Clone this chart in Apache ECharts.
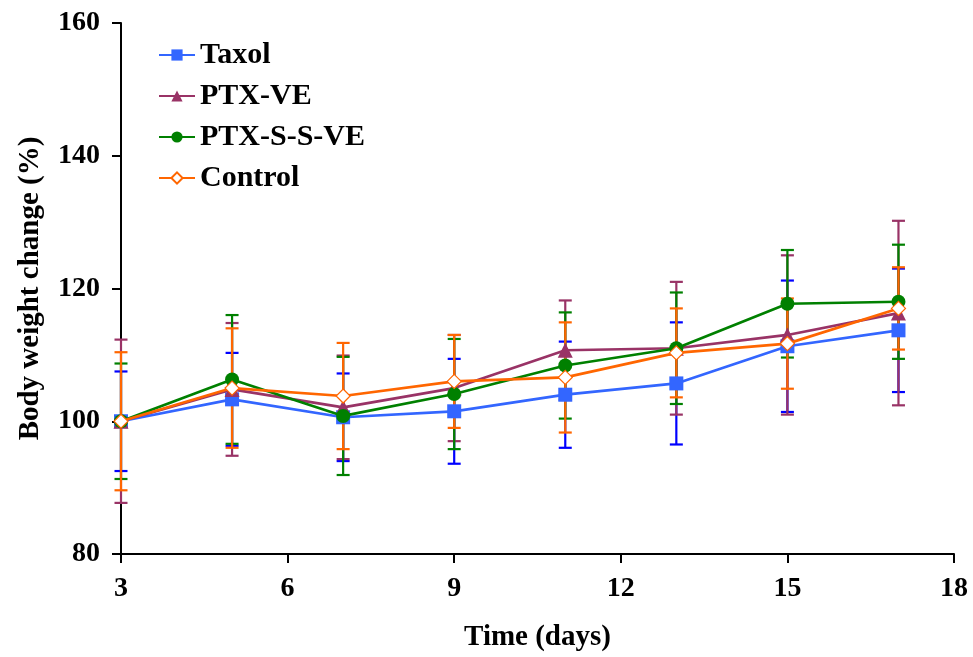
<!DOCTYPE html>
<html><head><meta charset="utf-8">
<script src="https://cdn.jsdelivr.net/npm/echarts@6/dist/echarts.min.js"></script>
<style>html,body{margin:0;padding:0;background:#fff}#c{width:973px;height:657px}</style>
</head><body><div id="c"></div>
<script>
var days = [3, 5, 7, 9, 11, 13, 15, 17];
var seriesNames = ['Taxol', 'PTX-VE', 'PTX-S-S-VE', 'Control'];
var taxol = [100, 103.3, 100.6, 101.5, 104.0, 105.7, 111.3, 113.7];
var taxolErr = [7.5, 7.0, 6.6, 7.9, 8.0, 9.2, 9.9, 9.3];
var ptxVE = [100, 104.8, 102.1, 105.0, 110.7, 111.0, 113.0, 116.3];
var ptxVEErr = [12.3, 10.0, 7.8, 8.0, 7.5, 10.0, 12.0, 13.9];
var ptxSSVE = [100, 106.3, 100.8, 104.1, 108.4, 111.0, 117.7, 118.0];
var ptxSSVEErr = [8.7, 9.7, 8.9, 8.3, 8.0, 8.4, 8.1, 8.6];
var control = [100, 105.0, 103.8, 106.0, 106.6, 110.3, 111.7, 117.0];
var controlErr = [10.4, 9.0, 8.0, 7.0, 8.3, 6.7, 6.8, 6.2];
var xTicks = [3, 6, 9, 12, 15, 18];
var yTicks = [80, 100, 120, 140, 160];

var FONT = '"Liberation Serif", "Times New Roman", serif';
var lineColors = ['#3366ff', '#993366', '#008000', '#ff6600'];
var barColors = ['#0000ff', '#993366', '#008000', '#ff6600'];
var symbols = ['rect', 'triangle', 'circle', 'diamond'];
var vals = [taxol, ptxVE, ptxSSVE, control];
var errs = [taxolErr, ptxVEErr, ptxSSVEErr, controlErr];

function errData(v, e) {
  return days.map(function (d, i) { return [d, v[i] - e[i], v[i] + e[i]]; });
}
function errSeries(idx) {
  return {
    type: 'custom', name: seriesNames[idx] + ' err', silent: true, z: 1,
    data: errData(vals[idx], errs[idx]),
    renderItem: function (params, api) {
      var lo = api.coord([api.value(0), api.value(1)]);
      var hi = api.coord([api.value(0), api.value(2)]);
      var hw = 6.5;
      var st = { stroke: barColors[idx], lineWidth: 2.2 };
      return { type: 'group', children: [
        { type: 'line', shape: { x1: lo[0], y1: lo[1], x2: hi[0], y2: hi[1] }, style: st },
        { type: 'line', shape: { x1: lo[0] - hw, y1: lo[1], x2: lo[0] + hw, y2: lo[1] }, style: st },
        { type: 'line', shape: { x1: hi[0] - hw, y1: hi[1], x2: hi[0] + hw, y2: hi[1] }, style: st }
      ]};
    }
  };
}
function lineSeries(idx) {
  var isCtrl = idx === 3;
  return {
    type: 'line', name: seriesNames[idx], z: 3 + idx,
    data: days.map(function (d, i) { return [d, vals[idx][i]]; }),
    symbol: symbols[idx],
    symbolSize: isCtrl ? 14 : (idx === 1 ? 15 : 14),
    lineStyle: { color: lineColors[idx], width: 2.7 },
    itemStyle: isCtrl ? { color: '#ffffff', borderColor: lineColors[idx], borderWidth: 1.2 }
                      : { color: lineColors[idx], borderWidth: 0 },
    emphasis: { disabled: true },
    animation: false
  };
}

var series = [];
for (var i = 0; i < 4; i++) series.push(errSeries(i));
for (var j = 0; j < 4; j++) series.push(lineSeries(j));

var chart = echarts.init(document.getElementById('c'), null, { renderer: 'canvas' });
chart.setOption({
  animation: false,
  backgroundColor: '#ffffff',
  grid: { left: 121, right: 19, top: 23, bottom: 103, containLabel: false },
  legend: {
    data: seriesNames, orient: 'vertical', left: 153, top: 35,
    itemWidth: 36, itemHeight: 14, itemGap: 11,
    textStyle: { fontFamily: FONT, fontWeight: 'bold', fontSize: 30, color: '#000', lineHeight: 30 }
  },
  xAxis: {
    type: 'value', min: 3, max: 18, interval: 3,
    name: 'Time (days)', nameLocation: 'middle', nameGap: 69,
    nameTextStyle: { fontFamily: FONT, fontWeight: 'bold', fontSize: 29, color: '#000' },
    axisLine: { onZero: false, lineStyle: { color: '#000', width: 2 } },
    axisTick: { show: true, length: 9, lineStyle: { color: '#000', width: 2 } },
    axisLabel: { fontFamily: FONT, fontWeight: 'bold', fontSize: 28, color: '#000', margin: 21,
      formatter: function (v) { return xTicks.indexOf(v) >= 0 ? String(v) : ''; } },
    splitLine: { show: false }
  },
  yAxis: {
    type: 'value', min: 80, max: 160, interval: 20,
    name: 'Body weight change (%)', nameLocation: 'middle', nameGap: 76,
    nameTextStyle: { fontFamily: FONT, fontWeight: 'bold', fontSize: 29, color: '#000' },
    axisLine: { show: true, onZero: false, lineStyle: { color: '#000', width: 2 } },
    axisTick: { show: true, length: 9, lineStyle: { color: '#000', width: 2 } },
    axisLabel: { fontFamily: FONT, fontWeight: 'bold', fontSize: 28, color: '#000', margin: 21,
      formatter: function (v) { return yTicks.indexOf(v) >= 0 ? String(v) : ''; } },
    splitLine: { show: false }
  },
  series: series
});
</script>
</body></html>
